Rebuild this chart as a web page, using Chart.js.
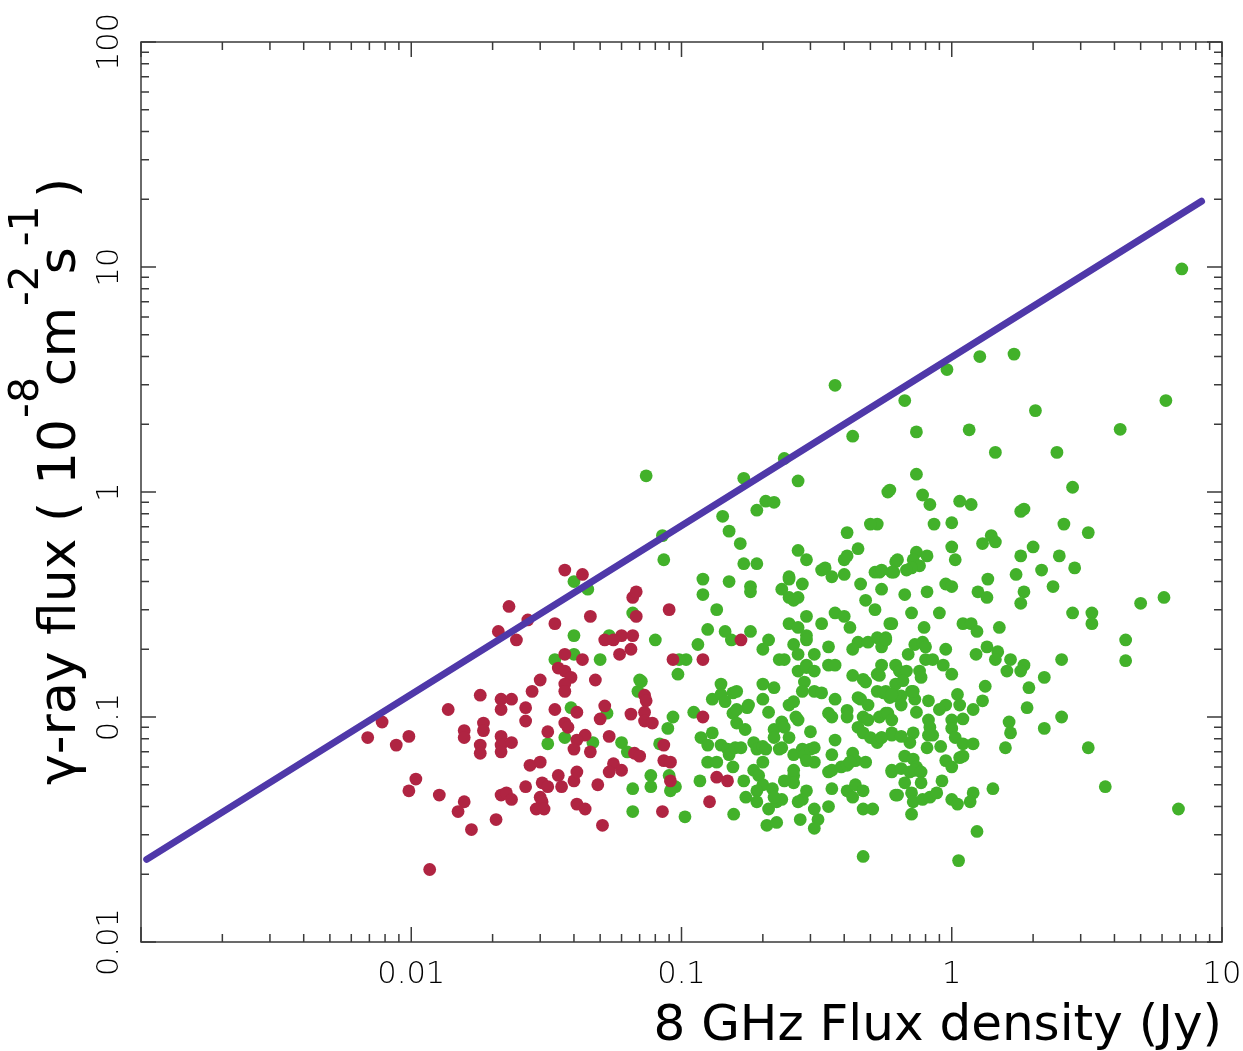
<!DOCTYPE html>
<html>
<head>
<meta charset="utf-8">
<script src="https://cdn.jsdelivr.net/npm/chart.js@4/dist/chart.umd.min.js"></script>
<style>
  html, body { margin: 0; padding: 0; background: #fff; }
  canvas { display: block; }
</style>
</head>
<body>
<canvas id="fluxChart" width="1243" height="1051"></canvas>
<script>
// axis ranges and tick labels
const xRange = [0.001, 10];
const yRange = [0.01, 100];
const xTickValues = [0.01, 0.1, 1, 10];
const xTickLabels = ["0.01", "0.1", "1", "10"];
const yTickValues = [0.01, 0.1, 1, 10, 100];
const yTickLabels = ["0.01", "0.1", "1", "10", "100"];

// upper envelope line (two end points)
const lineX = [0.00105, 8.4];
const lineY = [0.0233, 19.6];

// red sources [flux density Jy, gamma flux]
const redPts = [
  [0.037,0.45],[0.043,0.43],[0.023,0.31],[0.027,0.27],[0.021,0.24],[0.0245,0.22],[0.034,0.26],[0.046,0.28],
  [0.066,0.34],[0.068,0.36],[0.068,0.28],[0.06,0.23],[0.066,0.23],[0.052,0.22],[0.056,0.22],[0.065,0.2],
  [0.059,0.19],[0.037,0.19],[0.043,0.18],[0.035,0.165],[0.037,0.16],[0.039,0.15],[0.037,0.14],[0.037,0.13],
  [0.048,0.146],[0.03,0.146],[0.028,0.13],[0.018,0.125],[0.0215,0.12],[0.0235,0.12],[0.0215,0.108],[0.0137,0.108],
  [0.0265,0.11],[0.0265,0.096],[0.034,0.108],[0.041,0.105],[0.052,0.112],[0.065,0.103],[0.05,0.098],[0.037,0.094],
  [0.038,0.09],[0.032,0.086],[0.044,0.083],[0.054,0.082],[0.041,0.079],[0.04,0.072],[0.046,0.07],[0.067,0.069],
  [0.0185,0.094],[0.0185,0.087],[0.0157,0.087],[0.0157,0.081],[0.018,0.075],[0.018,0.069],[0.0215,0.082],[0.0215,0.075],
  [0.0215,0.07],[0.0235,0.077],[0.0078,0.095],[0.0069,0.081],[0.0098,0.082],[0.0088,0.075],[0.0275,0.061],[0.03,0.063],
  [0.0104,0.053],[0.0098,0.047],[0.0127,0.045],[0.0157,0.042],[0.0149,0.038],[0.0215,0.045],[0.0225,0.046],[0.0235,0.043],
  [0.0265,0.049],[0.0305,0.051],[0.032,0.049],[0.03,0.044],[0.0305,0.042],[0.029,0.039],[0.031,0.039],[0.035,0.055],
  [0.036,0.049],[0.04,0.052],[0.041,0.057],[0.049,0.05],[0.041,0.041],[0.044,0.039],[0.056,0.062],[0.06,0.058],
  [0.054,0.057],[0.0206,0.035],[0.0167,0.0316],[0.051,0.033],[0.0117,0.021],[0.09,0.3],[0.093,0.18],[0.12,0.18],
  [0.166,0.22],[0.073,0.125],[0.074,0.118],[0.073,0.105],[0.073,0.096],[0.078,0.094],[0.086,0.075],[0.086,0.064],
  [0.091,0.063],[0.091,0.052],[0.085,0.038],[0.12,0.1],[0.127,0.042],[0.135,0.054],[0.148,0.052],[0.07,0.067]
];

// green sources [flux density Jy, gamma flux]
const greenPts = [
  [0.04,0.4],[0.045,0.37],[0.04,0.23],[0.054,0.23],[0.066,0.29],[0.034,0.18],[0.04,0.19],[0.05,0.18],
  [0.07,0.146],[0.069,0.13],[0.039,0.11],[0.053,0.104],[0.037,0.081],[0.047,0.077],[0.032,0.076],[0.06,0.077],
  [0.063,0.07],[0.066,0.048],[0.066,0.038],
  [0.37,2.98],[0.43,1.77],[0.24,1.41],[0.17,1.15],[0.27,1.12],[0.074,1.18],[0.58,1.0],[0.205,0.91],
  [0.22,0.9],[0.19,0.83],[0.142,0.78],[0.53,0.72],[0.15,0.67],[0.41,0.66],[0.085,0.64],[0.165,0.59],
  [0.27,0.55],[0.45,0.56],[0.086,0.5],[0.29,0.5],[0.4,0.5],[0.41,0.52],[0.62,0.49],[0.17,0.48],
  [0.19,0.48],[0.33,0.45],[0.34,0.46],[0.36,0.42],[0.4,0.43],[0.52,0.44],[0.54,0.44],[0.61,0.44],
  [0.12,0.41],[0.15,0.4],[0.25,0.42],[0.25,0.41],[0.28,0.39],[0.18,0.38],[0.18,0.36],[0.235,0.37],
  [0.12,0.35],[0.46,0.39],[0.55,0.37],[0.25,0.34],[0.27,0.34],[0.26,0.33],[0.48,0.33],[0.135,0.3],
  [0.52,0.3],[0.29,0.28],[0.37,0.29],[0.4,0.28],[0.42,0.25],[0.25,0.26],[0.27,0.25],[0.33,0.26],
  [0.6,0.26],[0.125,0.245],[0.145,0.24],[0.153,0.22],[0.18,0.24],[0.21,0.22],[0.08,0.22],[0.115,0.21],
  [0.29,0.23],[0.29,0.22],[0.26,0.21],[0.2,0.2],[0.35,0.205],[0.45,0.215],[0.49,0.215],[0.53,0.225],
  [0.57,0.225],[0.55,0.205],[0.43,0.2],[0.23,0.18],[0.24,0.18],[0.27,0.19],[0.29,0.17],[0.31,0.19],
  [0.35,0.17],[0.37,0.17],[0.55,0.17],[0.62,0.17],[0.104,0.18],[0.098,0.18],
  [0.071,0.144],[0.097,0.155],[0.093,0.1],[0.089,0.089],[0.083,0.076],[0.077,0.055],[0.077,0.049],[0.09,0.055],
  [0.095,0.049],[0.091,0.047],[0.103,0.036],[0.117,0.052],[0.111,0.105],[0.14,0.14],[0.13,0.12],[0.14,0.126],
  [0.145,0.117],[0.155,0.128],[0.16,0.13],[0.155,0.104],[0.16,0.108],[0.175,0.11],[0.177,0.113],[0.16,0.094],
  [0.172,0.088],[0.2,0.14],[0.22,0.135],[0.2,0.12],[0.21,0.105],[0.118,0.081],[0.125,0.075],[0.13,0.085],
  [0.125,0.063],[0.135,0.063],[0.14,0.075],[0.148,0.072],[0.15,0.068],[0.155,0.06],[0.158,0.073],[0.166,0.073],
  [0.17,0.052],[0.173,0.044],[0.156,0.037],[0.185,0.077],[0.19,0.072],[0.2,0.074],[0.205,0.072],[0.185,0.058],
  [0.193,0.055],[0.2,0.063],[0.2,0.05],[0.19,0.047],[0.19,0.042],[0.217,0.048],[0.21,0.039],[0.225,0.042],
  [0.235,0.043],[0.207,0.033],[0.225,0.034],[0.22,0.088],[0.22,0.081],[0.235,0.095],[0.24,0.09],[0.25,0.081],
  [0.23,0.072],[0.235,0.073],[0.26,0.068],[0.25,0.113],[0.26,0.117],[0.265,0.1],[0.27,0.097],[0.3,0.086],
  [0.28,0.072],[0.285,0.068],[0.3,0.072],[0.31,0.073],[0.31,0.063],[0.29,0.064],[0.26,0.055],[0.26,0.051],
  [0.26,0.058],[0.29,0.047],[0.28,0.043],[0.27,0.042],[0.31,0.039],[0.32,0.035],[0.31,0.032],[0.275,0.035],
  [0.35,0.04],[0.27,0.16],[0.29,0.166],[0.31,0.16],[0.285,0.143],[0.28,0.13],[0.31,0.13],[0.33,0.128],
  [0.35,0.104],[0.36,0.1],[0.37,0.12],[0.37,0.079],[0.36,0.068],[0.35,0.057],[0.36,0.058],[0.39,0.06],
  [0.41,0.061],[0.36,0.048],[0.41,0.107],[0.41,0.1],[0.43,0.153],[0.47,0.147],[0.48,0.143],[0.53,0.155],
  [0.54,0.153],[0.45,0.122],[0.46,0.12],[0.49,0.113],[0.53,0.13],[0.56,0.128],[0.59,0.122],[0.47,0.1],
  [0.49,0.097],[0.54,0.1],[0.57,0.104],[0.45,0.09],[0.47,0.085],[0.5,0.081],[0.53,0.077],[0.55,0.081],
  [0.6,0.085],[0.43,0.069],[0.44,0.064],[0.42,0.063],[0.48,0.063],[0.41,0.047],[0.43,0.044],[0.44,0.05],
  [0.47,0.047],[0.47,0.039],[0.51,0.039],[0.62,0.045],[0.6,0.058],[0.47,0.024],[0.24,0.052],[0.22,0.044],
  [1.27,4.0],[1.7,4.1],[0.96,3.5],[0.67,2.55],[6.2,2.55],[2.04,2.3],[4.2,1.9],[0.74,1.85],
  [1.16,1.89],[1.45,1.5],[2.45,1.5],[0.74,1.2],[0.59,1.02],[2.8,1.05],[0.78,0.97],[0.83,0.88],
  [1.07,0.91],[1.18,0.88],[1.8,0.82],[1.85,0.84],[0.5,0.72],[0.86,0.72],[1.0,0.73],[2.6,0.72],
  [3.2,0.66],[1.4,0.64],[1.45,0.6],[1.3,0.59],[1.0,0.57],[1.03,0.5],[2.0,0.57],[1.8,0.52],
  [2.5,0.52],[0.74,0.54],[0.72,0.5],[0.76,0.47],[0.71,0.46],[0.68,0.45],[0.81,0.52],[0.63,0.5],
  [0.55,0.45],[0.6,0.44],[2.15,0.45],[2.85,0.46],[1.73,0.43],[1.36,0.41],[0.95,0.39],[1.0,0.38],
  [0.67,0.35],[0.81,0.36],[1.25,0.36],[1.35,0.34],[1.85,0.36],[1.8,0.32],[2.37,0.38],[5.0,0.32],
  [6.1,0.34],[0.71,0.29],[0.9,0.29],[2.8,0.29],[3.3,0.29],[3.3,0.26],[0.59,0.26],[0.79,0.25],
  [1.1,0.26],[1.18,0.26],[1.5,0.25],[7.1,9.8],
  [1.24,0.24],[4.4,0.22],[4.4,0.178],[2.55,0.18],[0.57,0.22],[0.73,0.21],[0.78,0.215],[0.8,0.205],
  [0.95,0.2],[0.69,0.19],[0.8,0.18],[0.85,0.18],[0.93,0.17],[1.23,0.19],[1.35,0.205],[1.48,0.195],
  [1.45,0.18],[1.65,0.18],[1.85,0.17],[1.6,0.16],[1.8,0.16],[2.2,0.15],[1.93,0.135],[1.9,0.11],
  [2.55,0.1],[2.2,0.089],[3.2,0.073],[3.7,0.049],[6.9,0.039],[1.33,0.137],[1.3,0.118],[1.0,0.155],
  [1.05,0.126],[1.07,0.113],[1.2,0.108],[1.1,0.098],[0.95,0.113],[0.9,0.108],[0.82,0.118],[0.74,0.105],
  [0.64,0.16],[0.68,0.16],[0.76,0.16],[0.77,0.15],[0.62,0.14],[0.66,0.145],[0.71,0.13],[0.65,0.124],
  [0.62,0.124],[0.57,0.13],[0.6,0.126],[0.65,0.113],[0.73,0.12],[0.72,0.13],[0.82,0.097],[0.83,0.09],
  [0.85,0.083],[0.82,0.083],[1.0,0.097],[1.0,0.089],[1.03,0.081],[0.58,0.104],[0.6,0.097],[0.72,0.085],
  [0.7,0.077],[0.6,0.083],[0.65,0.082],[0.55,0.081],[0.81,0.073],[0.91,0.074],[1.1,0.076],[1.2,0.076],
  [1.58,0.073],[1.63,0.095],[1.65,0.085],[0.67,0.067],[0.72,0.065],[0.74,0.06],[0.95,0.064],[1.0,0.06],
  [1.07,0.066],[1.1,0.067],[0.6,0.057],[0.65,0.059],[0.7,0.057],[0.73,0.058],[0.77,0.057],[0.67,0.051],
  [0.77,0.051],[0.92,0.052],[0.63,0.045],[0.71,0.046],[0.72,0.042],[0.78,0.043],[0.83,0.044],[0.88,0.046],
  [0.71,0.037],[1.0,0.043],[1.05,0.041],[1.2,0.046],[1.17,0.042],[1.42,0.048],[1.24,0.031],[1.06,0.023]
];

const toXY = pts => pts.map(p => ({ x: p[0], y: p[1] }));

// box, inward ticks on all sides, tick labels and axis titles
const framePlugin = {
  id: 'frame',
  afterDatasetsDraw(chart) {
    const { ctx, chartArea: a, scales } = chart;
    const sx = scales.x, sy = scales.y;
    ctx.save();
    ctx.strokeStyle = '#3a3a3a';
    ctx.lineWidth = 1.5;
    ctx.strokeRect(a.left, a.top, a.right - a.left, a.bottom - a.top);

    const logTicks = (min, max) => {
      const out = [];
      for (let d = Math.floor(Math.log10(min)); d <= Math.ceil(Math.log10(max)); d++) {
        for (let m = 1; m <= 9; m++) {
          const v = m * Math.pow(10, d);
          if (v >= min * 0.999 && v <= max * 1.001) out.push({ v, major: m === 1 });
        }
      }
      return out;
    };

    ctx.beginPath();
    logTicks(xRange[0], xRange[1]).forEach(t => {
      const px = sx.getPixelForValue(t.v);
      const len = t.major ? 15 : 8;
      ctx.moveTo(px, a.bottom); ctx.lineTo(px, a.bottom - len);
      ctx.moveTo(px, a.top); ctx.lineTo(px, a.top + len);
    });
    logTicks(yRange[0], yRange[1]).forEach(t => {
      const py = sy.getPixelForValue(t.v);
      const len = t.major ? 15 : 8;
      ctx.moveTo(a.left, py); ctx.lineTo(a.left + len, py);
      ctx.moveTo(a.right, py); ctx.lineTo(a.right - len, py);
    });
    ctx.stroke();

    ctx.fillStyle = '#000';
    ctx.font = '200 30.5px "DejaVu Sans"';
    ctx.textAlign = 'center';
    ctx.textBaseline = 'alphabetic';
    xTickValues.forEach((v, i) => {
      ctx.fillText(xTickLabels[i], sx.getPixelForValue(v), a.bottom + 41);
    });
    yTickValues.forEach((v, i) => {
      ctx.save();
      ctx.translate(a.left - 23, sy.getPixelForValue(v));
      ctx.rotate(-Math.PI / 2);
      ctx.fillText(yTickLabels[i], 0, 0);
      ctx.restore();
    });

    // x title
    ctx.font = '50px "DejaVu Sans"';
    ctx.textAlign = 'right';
    ctx.fillText('8 GHz Flux density (Jy)', a.right, 1040);

    // y title with superscripts
    const parts = [
      { t: 'γ-ray flux ( 10' }, { t: '-8', sup: true }, { t: 'cm' },
      { t: '-2', sup: true }, { t: 's' }, { t: '-1', sup: true }, { t: ' )' }
    ];
    ctx.save();
    ctx.translate(75, 785);
    ctx.rotate(-Math.PI / 2);
    ctx.textAlign = 'left';
    let cx = 0;
    parts.forEach(p => {
      ctx.font = p.sup ? '41px "DejaVu Sans"' : '52px "DejaVu Sans"';
      const w = ctx.measureText(p.t).width;
      if (p.sup) {
        ctx.fillText(p.t, cx + 1, -37);
        cx += w * 0.8;
      } else {
        ctx.fillText(p.t, cx, 0);
        cx += w;
      }
    });
    ctx.restore();
    ctx.restore();
  }
};

new Chart(document.getElementById('fluxChart'), {
  type: 'scatter',
  data: {
    datasets: [
      {
        label: 'limit',
        data: lineX.map((x, i) => ({ x, y: lineY[i] })),
        showLine: true,
        borderColor: '#4f38a9',
        borderWidth: 7,
        borderCapStyle: 'round',
        pointRadius: 0,
        order: 0
      },
      {
        label: 'red',
        data: toXY(redPts),
        backgroundColor: '#b02442',
        borderWidth: 0,
        pointRadius: 6.4,
        order: 1
      },
      {
        label: 'green',
        data: toXY(greenPts),
        backgroundColor: '#42b12a',
        borderWidth: 0,
        pointRadius: 6.4,
        order: 2
      }
    ]
  },
  options: {
    responsive: false,
    animation: false,
    devicePixelRatio: 1,
    layout: { padding: { left: 141, right: 21, top: 42, bottom: 109 } },
    plugins: { legend: { display: false }, tooltip: { enabled: false } },
    scales: {
      x: { type: 'logarithmic', min: xRange[0], max: xRange[1], display: false },
      y: { type: 'logarithmic', min: yRange[0], max: yRange[1], display: false }
    }
  },
  plugins: [framePlugin]
});
</script>
</body>
</html>
